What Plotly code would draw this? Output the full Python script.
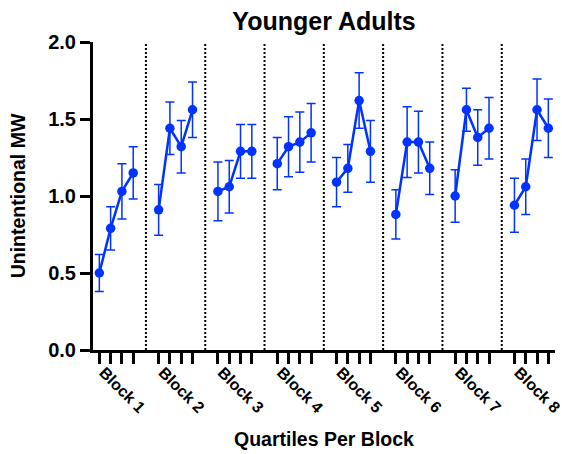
import plotly.graph_objects as go

# ---- data ----
blocks = ["Block 1", "Block 2", "Block 3", "Block 4", "Block 5", "Block 6", "Block 7", "Block 8"]
quartiles = [1, 2, 3, 4]
means = [
    [0.50, 0.79, 1.03, 1.15],
    [0.91, 1.44, 1.32, 1.56],
    [1.03, 1.06, 1.29, 1.29],
    [1.21, 1.32, 1.35, 1.41],
    [1.09, 1.18, 1.62, 1.29],
    [0.88, 1.35, 1.35, 1.18],
    [1.00, 1.56, 1.38, 1.44],
    [0.94, 1.06, 1.56, 1.44],
]
sems = [
    [0.12, 0.14, 0.18, 0.17],
    [0.165, 0.17, 0.17, 0.18],
    [0.19, 0.17, 0.175, 0.175],
    [0.17, 0.195, 0.195, 0.19],
    [0.16, 0.155, 0.18, 0.20],
    [0.16, 0.23, 0.20, 0.17],
    [0.17, 0.14, 0.18, 0.20],
    [0.175, 0.18, 0.20, 0.19],
]
y_ticks = [0.0, 0.5, 1.0, 1.5, 2.0]

# ---- layout helpers ----
BLOCK_STEP = 5.25          # spacing between block starts, in quartile units
BLUE = "#0033FF"
FONT = "Liberation Sans"

def xpos(b, q):
    return b * BLOCK_STEP + (q - 1)

fig = go.Figure()

all_x = []
for b, name in enumerate(blocks):
    xs = [xpos(b, q) for q in quartiles]
    all_x += xs
    fig.add_trace(go.Scatter(
        x=xs, y=means[b], mode="lines+markers", name=name,
        line=dict(color=BLUE, width=2.5),
        marker=dict(color=BLUE, size=9.5),
        error_y=dict(type="data", array=sems[b], visible=True,
                     color=BLUE, thickness=1.5, width=4.5),
        showlegend=False,
    ))

# block separators (dotted) midway between blocks
for b in range(len(blocks) - 1):
    xm = (xpos(b, quartiles[-1]) + xpos(b + 1, quartiles[0])) / 2
    fig.add_shape(type="line", xref="x", yref="y", x0=xm, x1=xm, y0=0, y1=2,
                  line=dict(color="black", width=2, dash="2px,2px"), layer="below")

xmin = xpos(0, 1) - 0.56
xmax = xpos(len(blocks) - 1, 4) + 0.59
label_pos = [xpos(b, 1) + 0.4 for b in range(len(blocks))]

fig.update_layout(
    width=562, height=454,
    margin=dict(l=93, r=7, t=42, b=104),
    paper_bgcolor="white", plot_bgcolor="white",
    font=dict(family=FONT, color="black"),
    title=dict(text="Younger Adults", x=0.5, xref="paper", xanchor="center",
               y=0.953, yref="container", yanchor="middle",
               font=dict(family=FONT, size=25, weight="bold", color="black")),
    xaxis=dict(range=[xmin, xmax], tickvals=all_x, showticklabels=False,
               ticks="outside", ticklen=11, tickwidth=3, tickcolor="black",
               showline=True, linewidth=3, linecolor="black",
               showgrid=False, zeroline=False, automargin=False),
    xaxis2=dict(range=[xmin, xmax], overlaying="x", anchor="y", side="bottom",
                tickvals=label_pos, ticktext=blocks, tickangle=45,
                ticks="outside", ticklen=6, tickcolor="rgba(0,0,0,0)",
                ticklabeloverflow="allow",
                tickfont=dict(family=FONT, size=16, weight="bold", color="black"),
                showline=False, showgrid=False, zeroline=False, automargin=False,
                title=dict(text="Quartiles Per Block", standoff=17,
                           font=dict(family=FONT, size=19.5, weight="bold", color="black"))),
    yaxis=dict(range=[0, 2], tickvals=y_ticks, tickformat=".1f",
               ticks="outside", ticklen=10, tickwidth=3, tickcolor="black",
               tickfont=dict(family=FONT, size=20, weight="bold", color="black"),
               showline=True, linewidth=3, linecolor="black",
               showgrid=False, zeroline=False, automargin=False,
               title=dict(text="Unintentional MW", standoff=18,
                          font=dict(family=FONT, size=19.5, weight="bold", color="black"))),
)
# dummy trace to activate xaxis2
fig.add_trace(go.Scatter(x=[xmin], y=[None], xaxis="x2", showlegend=False, hoverinfo="skip"))

fig.write_html("out.html")
